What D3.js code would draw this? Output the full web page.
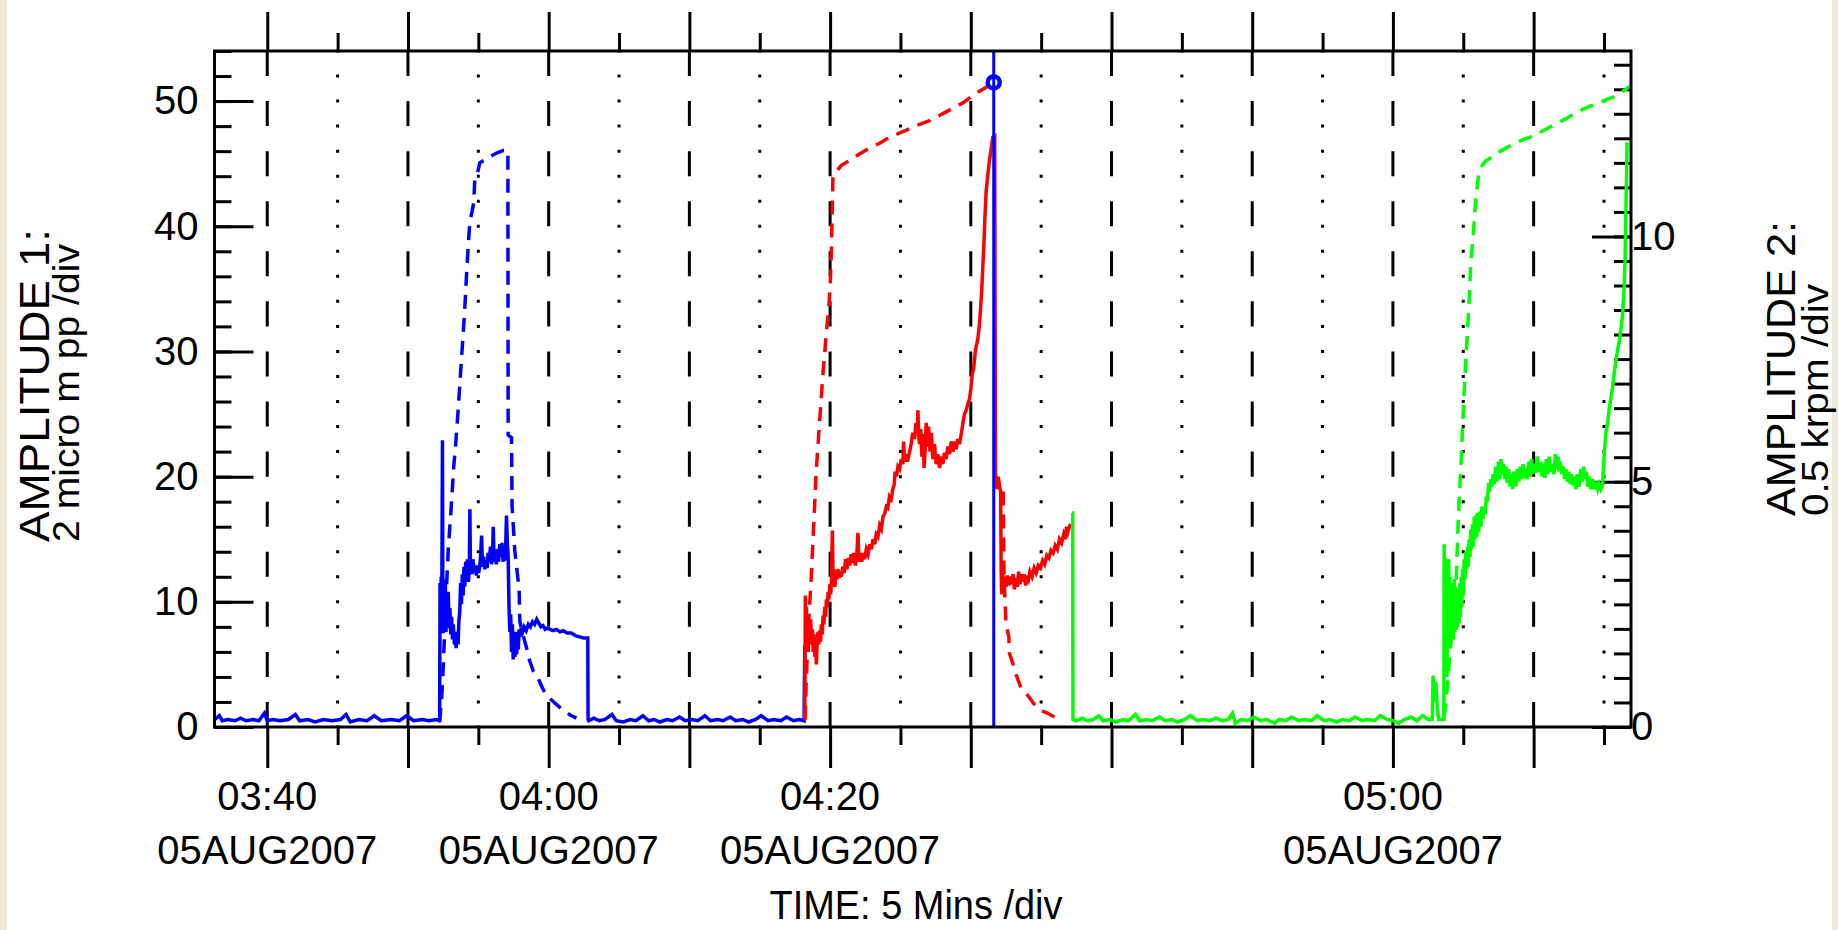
<!DOCTYPE html>
<html><head><meta charset="utf-8">
<script src="https://cdn.jsdelivr.net/npm/d3@7"></script>
<style>
html,body{margin:0;padding:0;background:#fff;overflow:hidden;}
svg{display:block;}
text{font-family:"Liberation Sans",Arial,sans-serif;fill:#000;}
</style></head><body>
<svg id="chart" width="1838" height="930"></svg>
<script>
// ---- DATA ----  (time = minutes after 03:40 on 05AUG2007)
const xDomainMin = [-3.75, 96.92];
const yLeftDomain = [0, 54];      // AMPLITUDE 1 (micro m pp)
const yRightDomain = [0, 13.78];  // AMPLITUDE 2 (krpm)
const yLeftTicks = [0, 10, 20, 30, 40, 50];
const yRightTicks = [0, 5, 10];
const xLabelTimes = ["03:40", "04:00", "04:20", "05:00"];
const xLabelDate = "05AUG2007";
const cursorTime = 51.63;
const cursorSpeed = 13.14;

// blue run: amplitude (left axis)
const blueAmp = [[-3.75,0.6],[-3.4,0.9],[-3.2,0.5],[-2.8,0.6],[-2.3,0.5],[-1.9,0.7],[-1.5,0.5],[-1.0,0.6],[-0.6,0.5],[-0.2,1.1],[0.0,0.5],[0.4,0.6],[0.9,0.5],[1.5,0.6],[2.0,1.0],[2.3,0.5],[2.9,0.6],[3.4,0.4],[4.0,0.6],[4.6,0.5],[5.2,0.6],[5.6,1.0],[5.9,0.4],[6.5,0.6],[7.1,0.5],[7.6,0.9],[8.1,0.5],[8.8,0.6],[9.4,0.5],[9.9,0.9],[10.4,0.5],[11.0,0.6],[11.5,0.5],[12.0,0.6],[12.22,0.5],
[12.25,0.6],[12.28,11.5],[12.32,8.5],[12.36,12],[12.4,9],[12.45,22.9],[12.48,10],[12.52,7.5],[12.56,11.2],[12.6,8.2],[12.65,11.8],[12.7,7.6],[12.75,10.5],[12.8,8.0],[12.86,10.8],[12.92,7.9],[12.98,9.5],[13.04,7.4],[13.1,8.8],[13.16,7.0],[13.22,8.2],[13.3,6.6],[13.36,7.6],[13.42,6.3],[13.5,7.5],[13.56,6.6],[13.62,8.5],[13.68,9.2],[13.74,11.5],[13.8,9.8],[13.86,12.2],[13.92,10.5],[13.98,12.8],[14.04,11.2],[14.1,13.2],[14.16,11.6],[14.22,13.4],[14.3,11.6],[14.36,12.8],[14.4,17.4],[14.44,12.4],[14.5,13.2],[14.56,12.2],[14.62,13.4],[14.7,12.4],[14.78,12.9],[14.86,12.1],[14.94,12.9],[15.02,12.3],[15.1,12.8],[15.16,13.6],[15.23,15.3],[15.3,12.8],[15.38,13.6],[15.46,12.6],[15.54,13.2],[15.62,12.7],[15.7,13.9],[15.78,13.2],[15.86,14.4],[15.94,13.0],[16.02,14.2],[16.06,16.0],[16.12,13.2],[16.2,14.0],[16.28,13.0],[16.36,14.2],[16.44,13.2],[16.52,14.6],[16.6,13.6],[16.68,14.7],[16.76,13.2],[16.84,14.2],[16.92,13.3],[17.0,16.9],[17.06,14.8],[17.12,13.6],[17.18,9.5],[17.24,7.6],[17.3,9.0],[17.36,6.0],[17.42,8.2],[17.48,5.4],[17.54,7.2],[17.6,5.6],[17.66,7.6],[17.72,5.8],[17.78,7.0],[17.84,6.2],[17.9,7.8],[17.96,7.2],[18.05,7.9],[18.15,7.6],[18.25,8.0],[18.4,7.7],[18.55,8.2],[18.7,8.0],[18.85,8.4],[19.0,8.2],[19.15,8.6],[19.3,8.3],[19.45,8.0],[19.6,8.1],[19.75,7.8],[19.9,7.9],[20.1,7.8],[20.3,7.7],[20.55,7.8],[20.8,7.6],[21.05,7.7],[21.3,7.5],[21.6,7.5],[21.9,7.3],[22.2,7.2],[22.5,7.1],[22.78,7.1],[22.8,0.6],
[22.85,0.5],[23.2,0.7],[23.6,0.5],[24.0,0.6],[24.5,1.0],[24.8,0.5],[25.3,0.4],[25.8,0.6],[26.2,0.5],[26.7,0.9],[27.1,0.5],[27.5,0.6],[27.9,0.4],[28.4,0.6],[28.8,0.5],[29.3,0.8],[29.7,0.5],[30.2,0.6],[30.6,0.5],[31.1,0.9],[31.5,0.5],[32.0,0.6],[32.4,0.5],[32.9,0.8],[33.3,0.5],[33.8,0.6],[34.2,0.4],[34.7,0.6],[35.1,0.9],[35.6,0.5],[36.0,0.6],[36.5,0.5],[36.9,0.8],[37.4,0.5],[37.8,0.6],[38.15,0.5],[38.2,6.5]];

// blue run: speed (right axis)
const blueSpeed = [[12.25,0.1],[12.4,0.6],[12.5,1.2],[12.7,2.6],[12.86,3.6],[13.1,4.6],[13.25,5.3],[13.4,5.8],[13.55,6.4],[13.69,7.0],[13.8,7.5],[13.92,8.0],[14.05,8.6],[14.16,9.2],[14.3,9.9],[14.4,10.3],[14.55,10.5],[14.68,10.7],[14.75,11.2],[14.95,11.3],[15.1,11.5],[15.4,11.55],[15.82,11.62],[16.3,11.7],[16.76,11.75],[17.1,11.75],[17.12,5.95],[17.36,5.9],[17.4,4.5],[17.59,3.6],[17.9,2.8],[17.95,2.15],[18.2,1.85],[18.42,1.62],[18.65,1.35],[18.89,1.15],[19.25,0.99],[19.55,0.8],[19.84,0.64],[20.2,0.55],[20.55,0.46],[21.0,0.35],[21.5,0.25],[21.97,0.18]];

// red run: amplitude (left axis)
const redAmp = [[38.2,0.6],[38.24,10.5],[38.28,7.2],[38.32,9.6],[38.36,6.4],[38.4,8.8],[38.45,6.0],[38.5,8.2],[38.56,6.6],[38.62,8.6],[38.68,6.8],[38.74,7.8],[38.8,6.0],[38.86,7.4],[38.92,5.6],[38.98,6.8],[39.02,5.0],[39.08,6.6],[39.14,7.6],[39.2,6.6],[39.26,7.7],[39.32,6.8],[39.38,8.2],[39.44,7.4],[39.5,8.9],[39.56,8.2],[39.62,9.6],[39.68,8.8],[39.74,10.2],[39.8,9.6],[39.86,10.8],[39.92,10.2],[39.98,11.4],[40.04,10.6],[40.1,11.6],[40.16,15.7],[40.22,11.4],[40.28,12.6],[40.34,11.2],[40.4,12.4],[40.48,11.8],[40.56,12.6],[40.64,11.9],[40.72,12.4],[40.8,12.0],[40.9,12.8],[41.0,12.3],[41.1,13.4],[41.2,12.6],[41.3,13.5],[41.4,12.9],[41.5,13.8],[41.6,13.1],[41.7,13.9],[41.8,12.9],[41.9,13.8],[41.98,15.5],[42.05,13.2],[42.15,13.9],[42.25,13.2],[42.35,13.9],[42.45,13.4],[42.57,14.2],[42.7,13.8],[42.82,14.6],[42.93,14.2],[43.05,15.0],[43.17,14.6],[43.28,15.4],[43.4,15.2],[43.52,16.1],[43.64,15.8],[43.76,16.8],[43.87,17.0],[44.0,17.6],[44.1,17.5],[44.22,18.4],[44.34,18.2],[44.46,19.0],[44.56,19.4],[44.62,20.4],[44.72,20.0],[44.82,20.8],[44.94,20.6],[45.06,21.4],[45.17,21.0],[45.22,22.8],[45.3,21.2],[45.4,21.8],[45.5,21.2],[45.65,22.0],[45.76,22.6],[45.88,23.5],[46.0,23.0],[46.1,24.3],[46.2,23.6],[46.24,25.3],[46.3,23.2],[46.36,22.6],[46.44,23.8],[46.52,21.6],[46.6,23.4],[46.68,20.7],[46.76,22.2],[46.83,24.3],[46.9,22.4],[47.0,24.0],[47.1,22.0],[47.19,23.5],[47.3,21.4],[47.42,22.6],[47.54,21.0],[47.66,21.8],[47.78,20.7],[47.9,21.6],[48.01,21.0],[48.13,21.9],[48.25,21.4],[48.37,22.4],[48.49,21.8],[48.61,22.8],[48.73,22.0],[48.85,22.8],[48.96,22.2],[49.08,23.0],[49.2,22.6],[49.32,23.4],[49.43,24.2],[49.55,25.0],[49.67,25.3],[49.79,25.8],[49.91,26.2],[50.0,27.0],[50.1,28.2],[50.2,28.6],[50.3,29.8],[50.38,30.4],[50.5,31.0],[50.62,32.2],[50.7,33.5],[50.78,35.0],[50.85,36.7],[50.93,38.5],[51.0,40.6],[51.09,42.8],[51.2,44.0],[51.33,45.3],[51.45,46.2],[51.56,47.1],[51.7,47.2],[51.75,20.3],[51.85,19.0],[51.95,20.0],[52.05,19.2],[52.12,18.8],[52.16,12.4],[52.2,10.6],[52.26,12.2],[52.34,11.0],[52.42,12.0],[52.5,11.2],[52.6,12.1],[52.7,11.3],[52.8,12.0],[52.9,11.4],[53.0,12.2],[53.1,11.0],[53.2,11.9],[53.3,11.2],[53.4,12.4],[53.5,11.4],[53.6,12.2],[53.7,11.6],[53.8,12.2],[53.9,11.3],[54.0,12.1],[54.1,11.8],[54.2,12.4],[54.35,12.0],[54.5,12.7],[54.65,12.3],[54.8,12.9],[54.95,12.7],[55.1,13.3],[55.25,13.0],[55.4,13.7],[55.55,13.5],[55.7,14.1],[55.85,13.9],[56.0,14.5],[56.15,14.2],[56.3,15.0],[56.45,14.7],[56.6,15.4],[56.72,15.0],[56.8,16.0],[56.9,15.6],[57.0,16.0],[57.1,16.2]];

// red run: speed (right axis), run-up then coast-down after the cursor
const redSpeed = [[38.22,0.15],[38.3,0.9],[38.45,2.0],[38.66,3.05],[38.85,4.2],[39.02,5.25],[39.2,6.0],[39.37,6.7],[39.49,7.2],[39.61,7.6],[39.75,8.1],[39.92,8.6],[40.02,9.1],[40.09,9.7],[40.15,10.5],[40.2,11.2],[40.3,11.25],[40.44,11.32],[40.8,11.45],[41.39,11.55],[42.09,11.68],[42.8,11.8],[43.52,11.9],[44.1,12.0],[44.7,12.08],[45.3,12.15],[45.88,12.23],[46.5,12.3],[47.07,12.36],[47.66,12.45],[48.25,12.54],[48.84,12.63],[49.43,12.72],[49.9,12.82],[50.38,12.92],[50.85,13.0],[51.33,13.08],[51.63,13.14],
[52.0,null],
[52.3,4.8],[52.36,3.1],[52.39,2.86],[52.5,2.1],[52.7,1.84],[52.75,1.5],[52.98,1.3],[53.22,1.06],[53.58,0.79],[53.93,0.69],[54.29,0.55],[54.64,0.41],[55.05,0.33],[55.47,0.28],[55.9,0.21],[56.42,0.16]];

// green run: amplitude (left axis)
const greenAmp = [[57.2,17.1],[57.24,17.1],[57.26,0.6],[57.5,0.5],[57.9,0.7],[58.3,0.5],[58.7,0.6],[59.1,0.9],[59.4,0.5],[59.9,0.6],[60.3,0.4],[60.8,0.6],[61.2,0.5],[61.7,1.0],[62.0,0.5],[62.5,0.6],[62.9,0.5],[63.4,0.8],[63.8,0.5],[64.3,0.6],[64.7,0.4],[65.2,0.6],[65.6,0.9],[66.1,0.5],[66.5,0.6],[67.0,0.5],[67.4,0.7],[67.9,0.5],[68.3,0.6],[68.6,1.1],[68.8,0.3],[69.2,0.6],[69.7,0.5],[70.1,0.8],[70.6,0.5],[71.0,0.6],[71.4,0.4],[71.6,0.3],[71.9,0.6],[72.4,0.5],[72.8,0.8],[73.3,0.5],[73.7,0.6],[74.2,0.5],[74.6,0.9],[75.1,0.5],[75.5,0.6],[76.0,0.4],[76.4,0.6],[76.9,0.5],[77.3,0.8],[77.8,0.5],[78.2,0.6],[78.7,0.5],[79.1,0.9],[79.6,0.6],[80.0,0.5],[80.4,0.3],[80.8,0.6],[81.3,0.8],[81.7,0.5],[82.1,0.9],[82.5,0.6],[82.8,0.6],[82.85,4.1],[82.95,2.0],[83.05,3.6],[83.15,1.5],[83.25,0.6],[83.5,0.6],[83.62,0.6],
[83.64,14.6],[83.68,7.5],[83.72,13.5],[83.76,6.2],[83.8,11.5],[83.84,4.0],[83.88,11.8],[83.92,6.5],[83.96,13.4],[84.0,7.0],[84.05,12.0],[84.1,7.4],[84.15,11.5],[84.2,7.2],[84.25,11.2],[84.3,7.0],[84.35,11.8],[84.4,7.6],[84.45,11.2],[84.5,7.8],[84.55,11.0],[84.6,8.0],[84.65,11.0],[84.7,8.3],[84.75,11.5],[84.8,8.8],[84.85,12.0],[84.9,9.6],[84.95,12.6],[85.0,10.5],[85.06,13.4],[85.12,11.8],[85.18,14.0],[85.24,12.6],[85.3,14.4],[85.36,12.8],[85.42,15.0],[85.48,13.6],[85.54,15.8],[85.6,14.2],[85.66,16.2],[85.72,14.4],[85.78,16.8],[85.84,15.0],[85.9,16.9],[85.96,15.2],[86.02,17.1],[86.1,15.6],[86.18,17.2],[86.25,16.0],[86.32,17.6],[86.4,16.6],[86.49,17.6],[86.56,17.0],[86.64,18.4],[86.72,18.0],[86.8,19.5],[86.88,18.8],[86.96,19.8],[87.04,19.2],[87.12,20.2],[87.2,19.4],[87.31,20.8],[87.4,19.6],[87.5,21.2],[87.6,19.8],[87.67,21.4],[87.76,20.2],[87.85,21.0],[87.94,19.8],[88.03,20.8],[88.12,19.5],[88.22,20.6],[88.32,19.2],[88.42,20.2],[88.5,19.0],[88.6,20.4],[88.73,19.2],[88.85,20.6],[88.95,19.6],[89.05,20.8],[89.15,19.8],[89.25,21.0],[89.35,19.9],[89.45,20.6],[89.55,19.8],[89.65,21.2],[89.75,20.0],[89.85,21.4],[89.95,20.2],[90.05,21.0],[90.15,20.3],[90.25,21.6],[90.39,20.4],[90.5,21.2],[90.6,20.0],[90.7,21.0],[90.8,19.9],[90.9,21.4],[91.0,20.2],[91.1,21.6],[91.2,20.4],[91.34,21.0],[91.45,20.2],[91.55,21.8],[91.65,20.6],[91.75,21.6],[91.81,20.4],[91.9,21.2],[92.0,20.2],[92.1,20.8],[92.2,19.8],[92.29,20.6],[92.4,19.6],[92.5,20.4],[92.6,19.4],[92.7,20.2],[92.8,19.3],[92.9,20.0],[93.0,19.0],[93.1,20.2],[93.23,19.2],[93.35,20.6],[93.45,19.6],[93.55,20.8],[93.65,19.8],[93.75,20.4],[93.85,19.2],[93.95,20.0],[94.05,19.0],[94.18,19.8],[94.3,19.0],[94.42,19.6],[94.55,19.0],[94.65,19.4],[94.78,19.0],[94.89,19.3],[95.0,21.5],[95.13,23.5],[95.25,24.2],[95.36,25.3],[95.48,26.2],[95.6,27.1],[95.72,28.2],[95.84,29.2],[95.95,30.0],[96.07,30.7],[96.2,31.8],[96.31,32.8],[96.43,35.0],[96.5,37.5],[96.55,40.7],[96.6,44.0],[96.64,46.7]];

// green run: speed (right axis)
const greenSpeed = [[83.64,0.2],[83.8,0.6],[84.0,1.3],[84.2,2.0],[84.35,2.5],[84.47,2.75],[84.6,3.9],[84.72,4.7],[84.83,5.3],[84.95,6.1],[85.06,6.8],[85.18,7.5],[85.3,8.06],[85.42,8.7],[85.54,9.5],[85.7,10.0],[85.82,10.5],[85.9,10.8],[86.02,11.1],[86.13,11.32],[86.35,11.45],[86.6,11.54],[87.1,11.63],[87.55,11.72],[88.15,11.82],[88.73,11.91],[89.3,11.98],[89.91,12.04],[90.5,12.13],[91.1,12.22],[91.7,12.31],[92.29,12.4],[92.9,12.5],[93.47,12.59],[94.06,12.66],[94.65,12.72],[95.25,12.8],[95.84,12.86],[96.3,12.95],[96.85,13.06]];

// ---- CHART ----
const W = 1838, H = 930;
const plot = {left: 214.5, right: 1631, top: 51, bottom: 727};
const base = new Date(2007, 7, 5, 3, 40, 0);
const toDate = m => new Date(base.getTime() + m * 60000);

const x = d3.scaleTime().domain(xDomainMin.map(toDate)).range([plot.left, plot.right]);
const yL = d3.scaleLinear().domain(yLeftDomain).range([plot.bottom, plot.top]);
const yR = d3.scaleLinear().domain(yRightDomain).range([plot.bottom, plot.top]);

const svg = d3.select("#chart");
svg.append("rect").attr("width", W).attr("height", H).attr("fill", "#fff");
// window frame strips
svg.append("rect").attr("x", 0).attr("y", 0).attr("width", 7).attr("height", H).attr("fill", "#ece9d8");
svg.append("rect").attr("x", 1832).attr("y", 0).attr("width", 6).attr("height", H).attr("fill", "#ece9d8");

const allTicks = x.ticks(d3.timeMinute.every(5));
const majorT = allTicks.filter(d => d.getMinutes() % 10 === 0);
const minorT = allTicks.filter(d => d.getMinutes() % 10 !== 0);

// grid
const grid = svg.append("g");
grid.selectAll("line.maj").data(majorT).join("line")
  .attr("x1", d => x(d)).attr("x2", d => x(d))
  .attr("y1", yL(0)).attr("y2", yL(yLeftDomain[1]))
  .attr("stroke", "#000").attr("stroke-width", 3)
  .attr("stroke-dasharray", `${yL(0)-yL(2)},${yL(0)-yL(2)}`);
grid.selectAll("line.min").data(minorT).join("line")
  .attr("x1", d => x(d)).attr("x2", d => x(d))
  .attr("y1", yL(0)).attr("y2", yL(yLeftDomain[1]))
  .attr("stroke", "#000").attr("stroke-width", 3)
  .attr("stroke-dasharray", `3,${yL(0)-yL(2)-3}`)
  .attr("stroke-dashoffset", 1.5);

// axes ticks
function styleAxis(g) {
  g.select(".domain").remove();
  g.selectAll(".tick line").attr("stroke", "#000").attr("stroke-width", 3);
  g.selectAll(".tick text").style("font-size", "40px").attr("fill", "#000")
    .style("font-family", '"Liberation Sans", Arial, sans-serif');
}
svg.append("g").attr("transform", `translate(${plot.left},0)`)
  .call(d3.axisLeft(yL).tickValues(d3.range(0, yLeftDomain[1] + 0.01, 2)).tickSize(-17).tickSizeOuter(0).tickFormat(""))
  .call(styleAxis);
svg.append("g").attr("transform", `translate(${plot.left},0)`)
  .call(d3.axisLeft(yL).tickValues(yLeftTicks).tickSize(-39).tickSizeOuter(0).tickPadding(16).tickFormat(d3.format("d")))
  .call(styleAxis);
svg.append("g").attr("transform", `translate(${plot.right},0)`)
  .call(d3.axisRight(yR).tickValues(d3.range(0, yRightDomain[1], 0.5)).tickSize(-17).tickSizeOuter(0).tickFormat(""))
  .call(styleAxis);
svg.append("g").attr("transform", `translate(${plot.right},0)`)
  .call(d3.axisRight(yR).tickValues(yRightTicks).tickSize(-39).tickSizeOuter(0).tickPadding(0).tickFormat(d3.format("d")))
  .call(styleAxis);
svg.append("g").attr("transform", `translate(0,${plot.top})`)
  .call(d3.axisTop(x).tickValues(minorT).tickSize(18).tickSizeOuter(0).tickFormat(""))
  .call(styleAxis);
svg.append("g").attr("transform", `translate(0,${plot.top})`)
  .call(d3.axisTop(x).tickValues(majorT).tickSize(39).tickSizeOuter(0).tickFormat(""))
  .call(styleAxis);
svg.append("g").attr("transform", `translate(0,${plot.bottom})`)
  .call(d3.axisBottom(x).tickValues(minorT).tickSize(18).tickSizeOuter(0).tickFormat(""))
  .call(styleAxis);
svg.append("g").attr("transform", `translate(0,${plot.bottom})`)
  .call(d3.axisBottom(x).tickValues(majorT).tickSize(41).tickSizeOuter(0).tickFormat(""))
  .call(styleAxis);

// series
const lineL = d3.line().defined(d => d[1] != null).x(d => x(toDate(d[0]))).y(d => yL(d[1]));
const lineR = d3.line().defined(d => d[1] != null).x(d => x(toDate(d[0]))).y(d => yR(d[1]));
const series = [
  {data: blueAmp, gen: lineL, color: "#0000ff", dash: null},
  {data: blueSpeed, gen: lineR, color: "#0000ff", dash: "14,9"},
  {data: redAmp, gen: lineL, color: "#ff0000", dash: null},
  {data: redSpeed, gen: lineR, color: "#ff0000", dash: "14,9"},
  {data: greenAmp, gen: lineL, color: "#00ff00", dash: null},
  {data: greenSpeed, gen: lineR, color: "#00ff00", dash: "14,9"}
];
svg.append("g").selectAll("path").data(series).join("path")
  .attr("d", s => s.gen(s.data))
  .attr("fill", "none").attr("stroke", s => s.color).attr("stroke-width", 3.5)
  .attr("stroke-linejoin", "miter").attr("stroke-linecap", "butt")
  .attr("stroke-dasharray", s => s.dash);

// cursor
svg.append("line")
  .attr("x1", x(toDate(cursorTime))).attr("x2", x(toDate(cursorTime)))
  .attr("y1", yL(0)).attr("y2", yL(yLeftDomain[1]))
  .attr("stroke", "#0000ff").attr("stroke-width", 3);
svg.append("circle")
  .attr("cx", x(toDate(cursorTime))).attr("cy", yR(cursorSpeed)).attr("r", 6)
  .attr("fill", "none").attr("stroke", "#0000ff").attr("stroke-width", 4.5);

// frame
svg.append("rect").attr("x", plot.left).attr("y", plot.top)
  .attr("width", plot.right - plot.left).attr("height", plot.bottom - plot.top)
  .attr("fill", "none").attr("stroke", "#000").attr("stroke-width", 3);

// x labels
const pt = d3.timeParse("%Y-%m-%d %H:%M");
const xl = svg.append("g").attr("text-anchor", "middle").style("font-size", "40px");
xLabelTimes.forEach(s => {
  const d = pt("2007-08-05 " + s);
  xl.append("text").attr("x", x(d)).attr("y", 810).attr("textLength", 100).attr("lengthAdjust", "spacingAndGlyphs").text(s);
  xl.append("text").attr("x", x(d)).attr("y", 864).attr("textLength", 220).attr("lengthAdjust", "spacingAndGlyphs").text(xLabelDate);
});
svg.append("text").attr("x", 916).attr("y", 919).attr("text-anchor", "middle")
  .attr("textLength", 293).attr("lengthAdjust", "spacingAndGlyphs")
  .style("font-size", "40px").text("TIME: 5 Mins /div");

// axis titles
svg.append("text").attr("transform", "translate(49,542) rotate(-90)")
  .attr("textLength", 313).attr("lengthAdjust", "spacingAndGlyphs")
  .style("font-size", "42px").text("AMPLITUDE 1:");
svg.append("text").attr("transform", "translate(79,542) rotate(-90)")
  .attr("textLength", 298).attr("lengthAdjust", "spacingAndGlyphs")
  .style("font-size", "36px").text("2 micro m pp /div");
svg.append("text").attr("transform", "translate(1795,516) rotate(-90)")
  .attr("textLength", 295).attr("lengthAdjust", "spacingAndGlyphs")
  .style("font-size", "40px").text("AMPLITUDE 2:");
svg.append("text").attr("transform", "translate(1828,516) rotate(-90)")
  .attr("textLength", 232).attr("lengthAdjust", "spacingAndGlyphs")
  .style("font-size", "36px").text("0.5 krpm /div");
</script></body></html>
